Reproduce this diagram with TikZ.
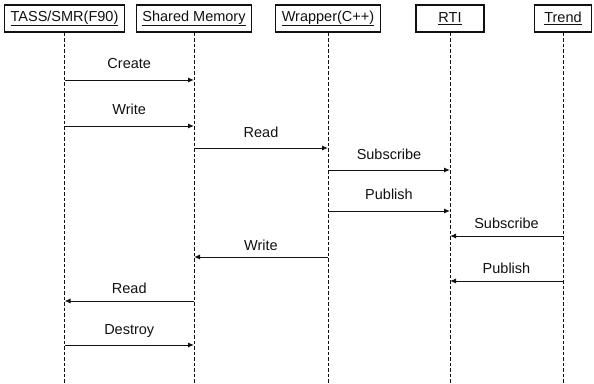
\documentclass[tikz,border=0pt]{standalone}
\usepackage{fontspec}
\setmainfont{Liberation Sans}
\usepackage{tikz}
\usetikzlibrary{arrows.meta,calc}
\definecolor{ink}{HTML}{111111}
\tikzset{
  obj/.style={draw=ink, line width=1.1pt, inner xsep=6pt, minimum height=27pt,
    font=\fontsize{14.5}{17}\selectfont, text=ink},
  life/.style={draw=ink, line width=1pt, dash pattern=on 3.5pt off 2pt},
  msg/.style={draw=ink, line width=1pt, -{Latex[length=6pt,width=5pt]}},
  lbl/.style={text=ink, font=\fontsize{14.5}{17}\selectfont, text height=10.5pt, text depth=0pt, inner sep=0pt},
}

\begin{document}
\begin{tikzpicture}[x=1pt,y=-1pt]
  \useasboundingbox (0,0) rectangle (594,383);
  % objects
  \node[obj] (tass) at (64.5,18.5) {\underline{TASS/SMR(F90)}};
  \node[obj] (shm) at (194,18.5) {\underline{Shared Memory}};
  \node[obj] (wrap) at (328,18.5) {\underline{Wrapper(C++)}};
  \node[obj, minimum width=68pt] (rti) at (450,18.5) {\underline{RTI}};
  \node[obj, minimum width=57pt] (trend) at (563,18.5) {\underline{Trend}};
  % lifelines
  \coordinate (end) at (0,383);
  \draw[life] (tass) -- (tass |- end);
  \draw[life] (shm) -- (shm |- end);
  \draw[life] (wrap) -- (wrap |- end);
  \draw[life] (rti) -- (rti |- end);
  \draw[life] (trend) -- (trend |- end);
  % messages
  \draw[msg] (tass |- 0,80) -- node[lbl, yshift=17pt] {Create} (shm |- 0,80);
  \draw[msg] (tass |- 0,126) -- node[lbl, yshift=17pt] {Write} (shm |- 0,126);
  \draw[msg] (shm |- 0,148) -- node[lbl, yshift=16pt] {Read} (wrap |- 0,148);
  \draw[msg] (wrap |- 0,170) -- node[lbl, yshift=16pt] {Subscribe} (rti |- 0,170);
  \draw[msg] (wrap |- 0,211) -- node[lbl, yshift=17pt] {Publish} (rti |- 0,211);
  \draw[msg] (trend |- 0,236) -- node[lbl, yshift=13pt] {Subscribe} (rti |- 0,236);
  \draw[msg] (trend |- 0,281) -- node[lbl, yshift=13pt] {Publish} (rti |- 0,281);
  \draw[msg] (wrap |- 0,257) -- node[lbl, yshift=12pt] {Write} (shm |- 0,257);
  \draw[msg] (shm |- 0,301) -- node[lbl, yshift=13pt] {Read} (tass |- 0,301);
  \draw[msg] (tass |- 0,345) -- node[lbl, yshift=16pt] {Destroy} (shm |- 0,345);
\end{tikzpicture}
\end{document}
